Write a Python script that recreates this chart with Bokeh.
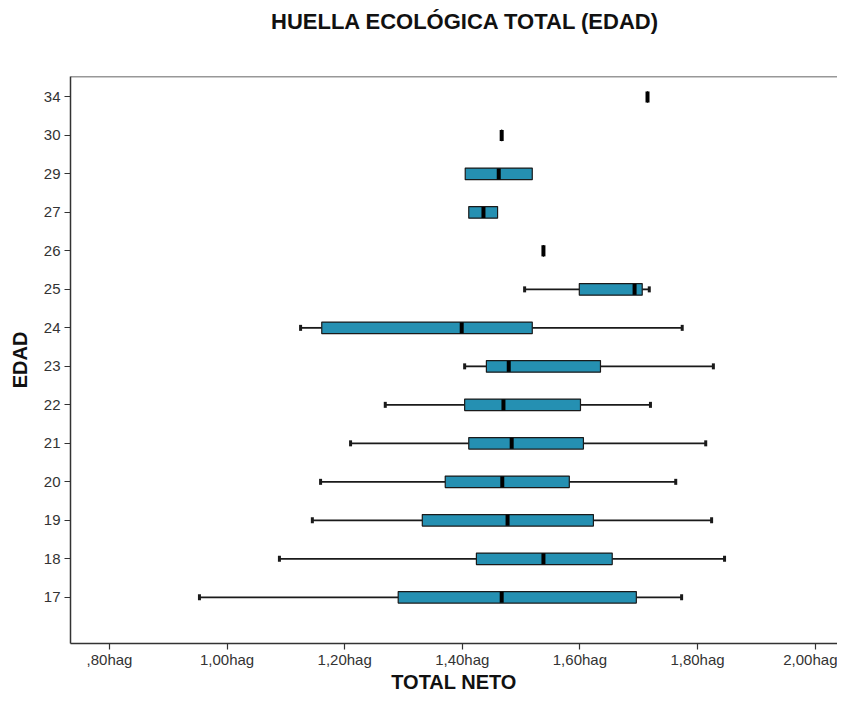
from bokeh.plotting import figure
from bokeh.models import ColumnDataSource, Range1d, FixedTicker, Span, Div
from bokeh.layouts import column
from bokeh.embed import file_html
from bokeh.resources import INLINE

# ---- data ----
ages = ["17", "18", "19", "20", "21", "22", "23", "24", "25", "26", "27", "29", "30", "34"]
lower_whisker = [0.953, 1.089, 1.145, 1.159, 1.210, 1.269, 1.404, 1.125, 1.506, 1.538, 1.411, 1.405, 1.467, 1.715]
q1 = [1.291, 1.424, 1.332, 1.371, 1.411, 1.404, 1.441, 1.161, 1.599, 1.538, 1.411, 1.405, 1.467, 1.715]
median = [1.467, 1.538, 1.477, 1.468, 1.484, 1.470, 1.479, 1.399, 1.693, 1.538, 1.436, 1.462, 1.467, 1.715]
q3 = [1.696, 1.655, 1.623, 1.582, 1.606, 1.601, 1.635, 1.519, 1.706, 1.538, 1.460, 1.519, 1.467, 1.715]
upper_whisker = [1.773, 1.846, 1.824, 1.763, 1.814, 1.720, 1.827, 1.774, 1.718, 1.538, 1.460, 1.519, 1.467, 1.715]

x_tick_values = [0.8, 1.0, 1.2, 1.4, 1.6, 1.8, 2.0]
x_tick_labels = [",80hag", "1,00hag", "1,20hag", "1,40hag", "1,60hag", "1,80hag", "2,00hag"]

title_text = "HUELLA ECOLÓGICA TOTAL (EDAD)"
x_label = "TOTAL NETO"
y_label = "EDAD"

# ---- styling ----
BOX_FILL = "#2590B2"
DARK = "#1a1a1a"
FONT = "Liberation Sans"

pos = list(range(len(ages)))

src = ColumnDataSource(dict(y=pos, lo=lower_whisker, q1=q1, med=median, q3=q3, hi=upper_whisker))

# caps only where whisker extends beyond the box
cap_lo = [(l, y) for l, b, y in zip(lower_whisker, q1, pos) if l < b]
cap_hi = [(h, y) for h, b, y in zip(upper_whisker, q3, pos) if h > b]

title_div = Div(
    text=('<div style="margin:0;padding:9px 0 0 271px;line-height:26px;white-space:nowrap;'
          'font-family:\'Liberation Sans\';font-size:22px;font-weight:bold;color:#111111;">'
          + title_text + '</div>'),
    width=837, height=40, margin=(0, 0, 0, 0))

Y_TOP = 13.53
p = figure(width=837, height=658, output_backend="svg", toolbar_location=None,
           x_range=Range1d(0.7337, 2.0381), y_range=Range1d(-1.2, Y_TOP),
           min_border_left=70, min_border_top=36, min_border_bottom=55,
           min_border_right=0, margin=(0, 0, 0, 0))

p.outline_line_color = None
p.xgrid.grid_line_color = None
p.ygrid.grid_line_color = None
p.background_fill_color = "white"
p.border_fill_color = "white"

# whiskers
p.segment(x0="lo", y0="y", x1="q1", y1="y", source=src, line_color=DARK, line_width=1.8)
p.segment(x0="q3", y0="y", x1="hi", y1="y", source=src, line_color=DARK, line_width=1.8)
if cap_lo:
    p.rect(x=[c[0] for c in cap_lo], y=[c[1] for c in cap_lo], width=3, height=6,
           width_units="screen", height_units="screen", fill_color=DARK, line_color=None)
if cap_hi:
    p.rect(x=[c[0] for c in cap_hi], y=[c[1] for c in cap_hi], width=3, height=6,
           width_units="screen", height_units="screen", fill_color=DARK, line_color=None)

# boxes
p.hbar(y="y", left="q1", right="q3", height=0.3, source=src,
       fill_color=BOX_FILL, line_color=DARK, line_width=1.2)
# median
p.rect(x="med", y="y", width=4, height=11, width_units="screen", height_units="screen",
       source=src, fill_color="black", line_color=None)

# top border of the frame
p.add_layout(Span(location=Y_TOP, dimension="width", line_color="#333333", line_width=1.5))

# axes
p.xaxis.ticker = FixedTicker(ticks=x_tick_values)
p.xaxis.major_label_overrides = {v: l for v, l in zip(x_tick_values, x_tick_labels)}
p.yaxis.ticker = FixedTicker(ticks=pos)
p.yaxis.major_label_overrides = {i: a for i, a in zip(pos, ages)}

for ax in (p.xaxis[0], p.yaxis[0]):
    ax.axis_line_color = "#333333"
    ax.axis_line_width = 1.5
    ax.major_tick_line_color = "#333333"
    ax.major_tick_line_width = 1.2
    ax.major_tick_in = 0
    ax.minor_tick_line_color = None
    ax.major_label_text_font = FONT
    ax.major_label_text_font_size = "15px"
    ax.major_label_text_color = "#333333"
    ax.axis_label_text_font = FONT
    ax.axis_label_text_font_size = "20px"
    ax.axis_label_text_font_style = "bold"
    ax.axis_label_text_color = "#111111"

p.xaxis.major_tick_out = 6
p.yaxis.major_tick_out = 6
p.xaxis.axis_label = x_label
p.yaxis.axis_label = y_label
p.xaxis.major_label_standoff = 1
p.yaxis.major_label_standoff = 4
p.xaxis.axis_label_standoff = 0
p.yaxis.axis_label_standoff = 10

layout = column(title_div, p, spacing=0)
open("out.html", "w").write(file_html(layout, INLINE))
